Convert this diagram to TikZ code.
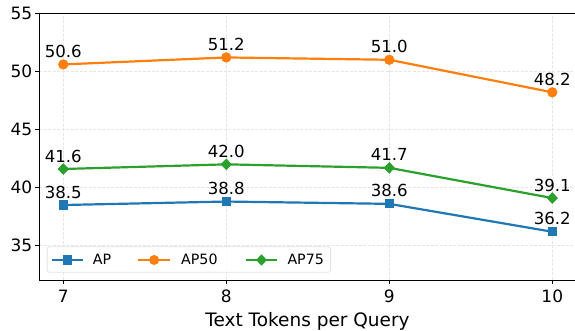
\documentclass[tikz,border=0pt]{standalone}
\usepackage{fontspec}
\setmainfont{DejaVu Sans}
\usetikzlibrary{shapes.geometric,calc}
\definecolor{tabblue}{HTML}{1F77B4}
\definecolor{taborange}{HTML}{FF7F0E}
\definecolor{tabgreen}{HTML}{2CA02C}
\definecolor{gridgray}{HTML}{E6E6E6}
\tikzset{
  series/.style={line width=2.2pt, line join=round},
  sqmark/.style={rectangle, fill=tabblue, minimum size=9.2pt, inner sep=0pt},
  cmark/.style={circle, fill=taborange, minimum size=10pt, inner sep=0pt},
  dmark/.style={diamond, fill=tabgreen, minimum width=11pt, minimum height=11.5pt, inner sep=0pt},
  vallabel/.style={anchor=base, inner sep=0pt, font=\fontsize{16.6}{18}\selectfont, yshift=7pt},
  ticklabel/.style={inner sep=0pt, font=\fontsize{17}{19}\selectfont},
  gridline/.style={gridgray, line width=0.8pt, dash pattern=on 3pt off 1.5pt},
  legtext/.style={anchor=base west, inner sep=0pt, font=\fontsize{14.2}{16}\selectfont},
}
\begin{document}
\begin{tikzpicture}[x=1pt,y=1pt]
\useasboundingbox (0,0) rectangle (575,331);
% data coordinates: x in tokens, y in AP points
\begin{scope}[x=163pt, y=11.62pt, shift={(-1077.7pt,-321.4pt)}]
  % grid
  \foreach \gx in {7,8,9,10} \draw[gridline] (\gx,32.05) -- (\gx,55);
  \foreach \gy in {35,40,45,50} \draw[gridline] (6.853,\gy) -- (10.142,\gy);
  % axes frame
  \draw[line width=0.9pt] (6.853,32.05) rectangle (10.142,55);
  % y ticks
  \foreach \gy in {35,40,45,50,55} {
    \draw[line width=0.9pt] (6.853,\gy) -- ++(-4pt,0);
    \node[ticklabel, anchor=east] (yl\gy) at ([xshift=-7pt]6.853,\gy) {\gy};
  }
  % x ticks
  \foreach \gx in {7,8,9,10} {
    \draw[line width=0.9pt] (\gx,32.05) -- ++(0,-4pt);
    \node[ticklabel, anchor=base] (xl\gx) at ([yshift=-22.5pt]\gx,32.05) {\gx};
  }
  % AP50
  \node[cmark] (o1) at (7,50.6) {};
  \node[cmark] (o2) at (8,51.2) {};
  \node[cmark] (o3) at (9,51.0) {};
  \node[cmark] (o4) at (10,48.2) {};
  \draw[series, taborange] (o1.center) -- (o2.center) -- (o3.center) -- (o4.center);
  % AP75
  \node[dmark] (g1) at (7,41.6) {};
  \node[dmark] (g2) at (8,42.0) {};
  \node[dmark] (g3) at (9,41.7) {};
  \node[dmark] (g4) at (10,39.1) {};
  \draw[series, tabgreen] (g1.center) -- (g2.center) -- (g3.center) -- (g4.center);
  % AP
  \node[sqmark] (b1) at (7,38.5) {};
  \node[sqmark] (b2) at (8,38.8) {};
  \node[sqmark] (b3) at (9,38.6) {};
  \node[sqmark] (b4) at (10,36.2) {};
  \draw[series, tabblue] (b1.center) -- (b2.center) -- (b3.center) -- (b4.center);
  % redraw markers above the lines
  \foreach \i/\v in {1/50.6,2/51.2,3/51.0,4/48.2} {
    \node[cmark] at (o\i) {};
    \node[vallabel] (lo\i) at (o\i.center) {\v};
  }
  \foreach \i/\v in {1/41.6,2/42.0,3/41.7,4/39.1} {
    \node[dmark] at (g\i) {};
    \node[vallabel] (lg\i) at (g\i.center) {\v};
  }
  \foreach \i/\v in {1/38.5,2/38.8,3/38.6,4/36.2} {
    \node[sqmark] at (b\i) {};
    \node[vallabel] (lb\i) at (b\i.center) {\v};
  }
\end{scope}
% legend
\node[draw=gridgray!80!black!40, fill=white, fill opacity=0.8, rounded corners=2.5pt, line width=0.8pt,
      minimum width=283.5pt, minimum height=25.5pt, anchor=south west, inner sep=0pt] (legend) at (46.7,58.3) {};
\coordinate (la1) at (51.7,71);  \coordinate (la2) at (82.7,71);
\coordinate (lb1) at (138.3,71); \coordinate (lb2) at (170,71);
\coordinate (lc1) at (245.7,71); \coordinate (lc2) at (277.3,71);
\draw[series, tabblue] (la1) -- (la2);
\node[sqmark] (lm1) at ($(la1)!0.5!(la2)$) {};
\draw[series, taborange] (lb1) -- (lb2);
\node[cmark] (lm2) at ($(lb1)!0.5!(lb2)$) {};
\draw[series, tabgreen] (lc1) -- (lc2);
\node[dmark] (lm3) at ($(lc1)!0.5!(lc2)$) {};
\node[legtext] (lt1) at (92.7,66) {AP};
\node[legtext] (lt2) at (181,66) {AP50};
\node[legtext] (lt3) at (287.3,66) {AP75};
% axis title
\node[anchor=base, inner sep=0pt, font=\fontsize{18.5}{20}\selectfont] (xtitle) at (307.5,4.3) {Text Tokens per Query};
\end{tikzpicture}
\end{document}
